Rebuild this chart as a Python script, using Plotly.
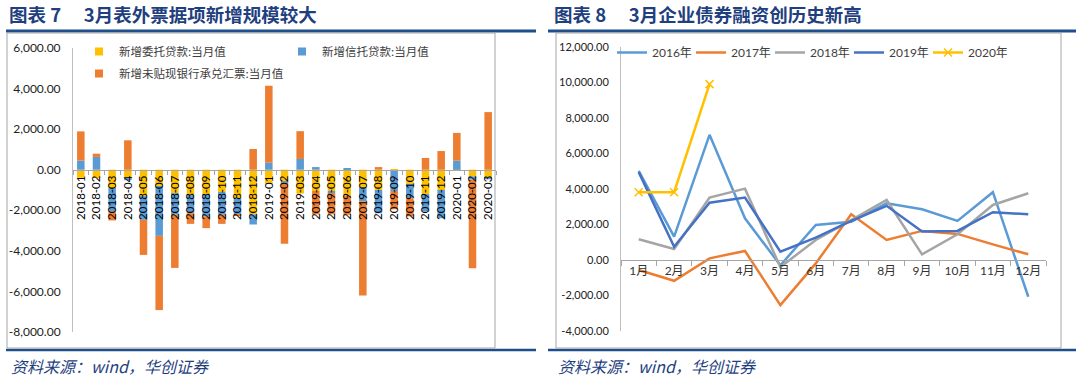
import plotly.graph_objects as go

# ---------------- Left chart data (亿元) ----------------
bar_months = ["2018-01", "2018-02", "2018-03", "2018-04", "2018-05", "2018-06", "2018-07",
              "2018-08", "2018-09", "2018-10", "2018-11", "2018-12", "2019-01", "2019-02",
              "2019-03", "2019-04", "2019-05", "2019-06", "2019-07", "2019-08", "2019-09",
              "2019-10", "2019-11", "2019-12", "2020-01", "2020-02", "2020-03"]
entrusted = [-400, -410, -900, -450, -1300, -800, -1150, -1250, -1200, -1100, -1400, -2200,
             -700, -600, -1175, -1050, -1050, -1270, -865, -1000, -50, -700, -1200, -1000,
             -30, -330, -400]
trust = [450, 630, -1150, -70, -1170, -2460, -1070, -890, -1100, -1120, -800, -500,
         345, -50, 530, 130, -100, 80, -690, -1150, -1000, -700, -850, -1390,
         445, -160, -70]
undiscounted = [1440, 160, -450, 1450, -1730, -3660, -2620, -530, -580, -450, -50, 1020,
                3795, -3000, 1370, -1150, -1050, -950, -4646, 130, -900, -900, 580, 920,
                1370, -4370, 2840]
left_names = ["新增委托贷款:当月值", "新增信托贷款:当月值", "新增未贴现银行承兑汇票:当月值"]
left_tickvals = [6000, 4000, 2000, 0, -2000, -4000, -6000, -8000]
left_ticktext = ["6,000.00", "4,000.00", "2,000.00", "0.00", "-2,000.00", "-4,000.00",
                 "-6,000.00", "-8,000.00"]

# ---------------- Right chart data (亿元) ----------------
line_months = ["1月", "2月", "3月", "4月", "5月", "6月", "7月", "8月", "9月", "10月", "11月", "12月"]
y2016 = [5020, 1316, 7050, 2350, -300, 1970, 2160, 3200, 2860, 2200, 3820, -2070]
y2017 = [-560, -1170, 90, 510, -2540, -190, 2580, 1130, 1640, 1470, 880, 320]
y2018 = [1170, 620, 3520, 4020, -400, 1130, 2250, 3380, 320, 1450, 3100, 3760]
y2019 = [4950, 750, 3230, 3520, 470, 1260, 2200, 3050, 1600, 1640, 2690, 2580]
y2020 = [3820, 3820, 9910]
right_names = ["2016年", "2017年", "2018年", "2019年", "2020年"]
right_tickvals = [12000, 10000, 8000, 6000, 4000, 2000, 0, -2000, -4000]
right_ticktext = ["12,000.00", "10,000.00", "8,000.00", "6,000.00", "4,000.00", "2,000.00",
                  "0.00", "-2,000.00", "-4,000.00"]

W, H = 1080, 381
def px(x):
    return x / W
def py(y):
    return 1 - y / H

FONT = "Lato, 'Noto Sans CJK SC', sans-serif"
CJK = "'Noto Sans CJK SC', sans-serif"
NAVY = "#1F3F7F"

fig = go.Figure()

bar_colors = ["#FFC000", "#5B9BD5", "#ED7D31"]
for name, vals, col in zip(left_names, [entrusted, trust, undiscounted], bar_colors):
    fig.add_trace(go.Bar(x=bar_months, y=vals, name=name, marker_color=col,
                         marker_line_width=0, xaxis="x", yaxis="y", showlegend=False))
# legend entries (small square swatches)
for i, (name, col) in enumerate(zip(left_names, bar_colors)):
    fig.add_trace(go.Scatter(x=[None], y=[None], mode="markers", name=name,
                             marker=dict(symbol="square", size=8, color=col),
                             xaxis="x", yaxis="y",
                             legend="legend" if i < 2 else "legend2"))

line_colors = ["#5B9BD5", "#ED7D31", "#A5A5A5", "#4472C4", "#FFC000"]
for name, vals, col in zip(right_names, [y2016, y2017, y2018, y2019, y2020], line_colors):
    is2020 = name == "2020年"
    fig.add_trace(go.Scatter(x=line_months[:len(vals)], y=vals, name=name,
                             mode="lines+markers" if is2020 else "lines",
                             line=dict(color=col, width=2.5),
                             marker=dict(symbol="x-thin", size=8,
                                         line=dict(color=col, width=1.5)) if is2020 else None,
                             xaxis="x2", yaxis="y2", legend="legend3"))

axis_gray = "#BFBFBF"
zero_y_left = 170
zero_y_right = 260

fig.update_layout(
    width=W, height=H, margin=dict(l=0, r=0, t=0, b=0, autoexpand=False),
    paper_bgcolor="white", plot_bgcolor="rgba(0,0,0,0)",
    barmode="relative", bargap=0.52,
    font=dict(family=FONT, size=12, color="#404040"),
    xaxis=dict(domain=[px(73), px(496)], type="category", anchor="free",
               position=py(zero_y_left), showline=True, linecolor="#A6A6A6", linewidth=1,
               ticks="outside", ticklen=4, tickcolor="#A6A6A6", tickson="boundaries",
               tickangle=-90, tickfont=dict(family=FONT, size=11.5, color="#000000"),
               showgrid=False, zeroline=False, fixedrange=True, automargin=False),
    yaxis=dict(domain=[py(332), py(48)], range=[-8000, 6000], tickvals=left_tickvals,
               ticktext=left_ticktext, showline=True, linecolor=axis_gray, linewidth=1,
               showgrid=False, zeroline=False, ticks="", ticklabelstandoff=9,
               tickfont=dict(family=FONT, size=12, color="#222222"), automargin=False),
    xaxis2=dict(domain=[px(621), px(1046)], type="category", anchor="free",
                position=py(zero_y_right), showline=True, linecolor="#A6A6A6", linewidth=1,
                ticks="outside", ticklen=5, tickcolor="#A6A6A6", tickson="boundaries",
                tickfont=dict(family=FONT, size=12, color="#333333"),
                showgrid=False, zeroline=False, range=[-0.5, 11.5], automargin=False),
    yaxis2=dict(domain=[py(331), py(47)], range=[-4000, 12000], tickvals=right_tickvals,
                ticktext=right_ticktext, showline=True, linecolor=axis_gray, linewidth=1,
                showgrid=False, zeroline=False, ticks="", ticklabelstandoff=9,
                tickfont=dict(family=FONT, size=11, color="#222222"), anchor="x2",
                automargin=False),
    legend=dict(orientation="h", x=px(79), y=py(37), xanchor="left", yanchor="top",
                entrywidth=158, entrywidthmode="pixels", bgcolor="rgba(0,0,0,0)",
                font=dict(family=CJK, size=11.5, color="#404040"), itemwidth=30),
    legend2=dict(orientation="h", x=px(79), y=py(59), xanchor="left", yanchor="top",
                 bgcolor="rgba(0,0,0,0)",
                 font=dict(family=CJK, size=11.5, color="#404040"), itemwidth=30),
    legend3=dict(orientation="h", x=px(612), y=py(38), xanchor="left", yanchor="top",
                 entrywidth=34, entrywidthmode="pixels", bgcolor="rgba(0,0,0,0)",
                 font=dict(family=FONT, size=12, color="#404040"), itemwidth=30),
    showlegend=True,
)

shapes = []
# title underlines
for x0, x1 in [(6, 536), (548, 1076)]:
    shapes.append(dict(type="line", xref="paper", yref="paper", x0=px(x0), x1=px(x1),
                       y0=py(31), y1=py(31), line=dict(color="#1F4E8C", width=3)))
    shapes.append(dict(type="line", xref="paper", yref="paper", x0=px(x0), x1=px(x1),
                       y0=py(350), y1=py(350), line=dict(color="#1F4E8C", width=2.5)))
# chart boxes
for x0, x1 in [(7, 495), (556, 1061)]:
    shapes.append(dict(type="rect", xref="paper", yref="paper", x0=px(x0), x1=px(x1),
                       y0=py(348), y1=py(33), line=dict(color="#A6A6A6", width=1)))
fig.update_layout(shapes=shapes)

annotations = [
    dict(text="<b>图表 7　 3月表外票据项新增规模较大</b>", x=px(7), y=py(14), xref="paper",
         yref="paper", xanchor="left", yanchor="middle", showarrow=False,
         font=dict(family=CJK, size=18.5, color=NAVY)),
    dict(text="<b>图表 8　 3月企业债券融资创历史新高</b>", x=px(552), y=py(14), xref="paper",
         yref="paper", xanchor="left", yanchor="middle", showarrow=False,
         font=dict(family=CJK, size=18.5, color=NAVY)),
    dict(text="<i>资料来源：wind，华创证券</i>", x=px(9), y=py(366), xref="paper",
         yref="paper", xanchor="left", yanchor="middle", showarrow=False,
         font=dict(family=CJK, size=16, color=NAVY)),
    dict(text="<i>资料来源：wind，华创证券</i>", x=px(556), y=py(366), xref="paper",
         yref="paper", xanchor="left", yanchor="middle", showarrow=False,
         font=dict(family=CJK, size=16, color=NAVY)),
]
fig.update_layout(annotations=annotations)

fig.write_html("out.html", config={"displayModeBar": False},
               post_script="document.body.style.margin='0';document.body.style.overflow='hidden';")
